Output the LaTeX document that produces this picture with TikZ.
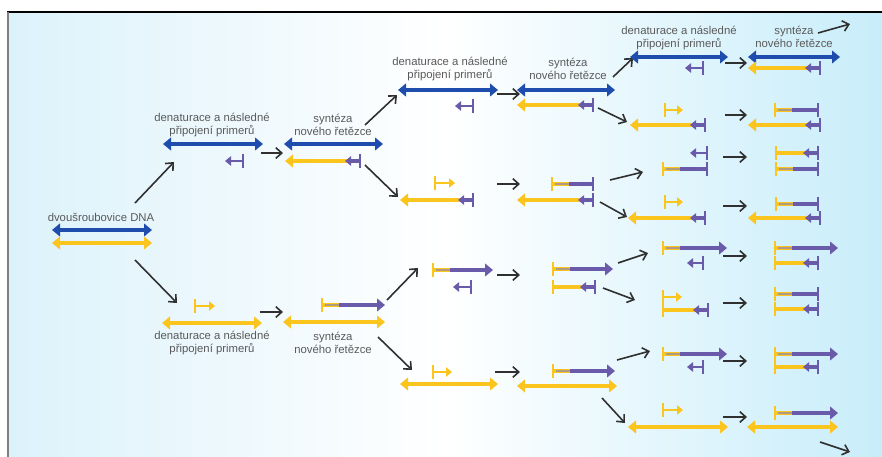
\documentclass[tikz,border=0pt]{standalone}
\usepackage{fontspec}
\setmainfont{Liberation Sans}
\usetikzlibrary{arrows.meta}
\definecolor{dnablue}{HTML}{1F4DAE}
\definecolor{dnayel}{HTML}{FBC51E}
\definecolor{dnapur}{HTML}{6A5AAA}
\definecolor{connc}{HTML}{303030}
\definecolor{lblc}{HTML}{5A5A5A}
\definecolor{mixc}{HTML}{B09A80}
\definecolor{bgL}{HTML}{DCF2FB}
\definecolor{bgR}{HTML}{C8EDFA}
\tikzset{
  dsline/.style={line width=3.6pt,{Triangle[length=6pt,width=9.5pt]}-{Triangle[length=6pt,width=9.5pt]}},
  thick strand/.style={line width=3.6pt},
  thin strand/.style={line width=2.2pt},
  bigtip/.style={-{Triangle[length=6pt,width=9.5pt]}},
  smalltip/.style={-{Triangle[length=4.5pt,width=7pt]}},
  cn/.style={draw=connc,line width=1.2pt,-{Straight Barb[length=4.5pt,width=8pt]}},
  lbl/.style={text=lblc,align=center,font=\fontsize{8.5}{9.8}\selectfont,inner sep=0pt}
}
% double strands
\newcommand\dsB[3]{\draw[dsline,color=dnablue] (#1,#3) -- (#2,#3);}
\newcommand\dsY[3]{\draw[dsline,color=dnayel] (#1,#3) -- (#2,#3);}
% purple primer  <-|  (tip x1, bar x2)
\newcommand\pPur[3]{%
  \draw[thin strand,color=dnapur,smalltip] (#2,#3) -- (#1,#3);
  \draw[thin strand,color=dnapur] (#2,{#3-7}) -- (#2,{#3+7});}
% yellow primer  |->  (bar x1, tip x2)
\newcommand\pYel[3]{%
  \draw[thin strand,color=dnayel,smalltip] (#1,#3) -- (#2,#3);
  \draw[thin strand,color=dnayel] (#1,{#3-7}) -- (#1,{#3+7});}
% yellow strand pointing left with purple primer and bar at right
\newcommand\sYL[3]{%
  \draw[thick strand,color=dnayel,bigtip] ({#2-10},#3) -- (#1,#3);
  \draw[line width=2.6pt,color=dnapur,smalltip] (#2,#3) -- ({#2-15},#3);
  \draw[thin strand,color=dnapur] (#2,{#3-7}) -- (#2,{#3+7});}
% new strand |yel-pur>
\newcommand\sNewR[3]{%
  \draw[thin strand,color=dnayel] (#1,{#3-7}) -- (#1,{#3+7});
  \draw[thick strand,color=dnayel] (#1,#3) -- ({#1+17},#3);
  \draw[line width=0.8pt,color=mixc] ({#1+3},#3) -- ({#1+17},#3);
  \draw[thick strand,color=dnapur,bigtip] ({#1+17},#3) -- (#2,#3);}
% new strand |yel-pur|
\newcommand\sNewB[3]{%
  \draw[thin strand,color=dnayel] (#1,{#3-7}) -- (#1,{#3+7});
  \draw[thick strand,color=dnayel] (#1,#3) -- ({#1+17},#3);
  \draw[line width=0.8pt,color=mixc] ({#1+3},#3) -- ({#1+17},#3);
  \draw[thick strand,color=dnapur] ({#1+17},#3) -- (#2,#3);
  \draw[thin strand,color=dnapur] (#2,{#3-7}) -- (#2,{#3+7});}
% |yel=pur<|
\newcommand\sYB[3]{%
  \draw[thin strand,color=dnayel] (#1,{#3-7}) -- (#1,{#3+7});
  \draw[thick strand,color=dnayel] (#1,#3) -- ({#2-10},#3);
  \draw[line width=2.6pt,color=dnapur,smalltip] (#2,#3) -- ({#2-15},#3);
  \draw[thin strand,color=dnapur] (#2,{#3-7}) -- (#2,{#3+7});}
\begin{document}
\begin{tikzpicture}[x=0.75pt,y=-0.75pt]
\useasboundingbox (0,0) rectangle (882,457);
\fill[white] (0,0) rectangle (882,457);
\shade[left color=bgL,right color=bgR,middle color=white] (8,12) rectangle (882,457);
\draw[line width=1.5pt,black] (7,12) -- (882,12);
\draw[line width=1.2pt,gray] (8,12) -- (8,457);

% stage 0
\node[lbl] (dna) at (101,217) {dvoušroubovice DNA};
\dsB{52}{152}{230}
\dsY{52}{152}{243}
\draw[cn] (135,203) -- (174,162);
\draw[cn] (135,260) -- (177,303);

% stage 1 top
\node[lbl] (t1) at (212,125) {denaturace a následné\\připojení primerů};
\dsB{163}{263}{144}
\pPur{225}{243}{161}
\draw[cn] (261,153) -- (283,153);
% stage 2 top
\node[lbl] (t2) at (333,125) {syntéza\\nového řetězce};
\dsB{284}{383}{144}
\sYL{285}{360}{161}
\draw[cn] (365,125) -- (397,95);
\draw[cn] (365,165) -- (398,197);

% stage 3 top-top
\node[lbl] (t3) at (450,69) {denaturace a následné\\připojení primerů};
\dsB{398}{498}{90}
\pPur{455}{473}{106}
\draw[cn] (497,94) -- (520,94);
% stage 4 top-top
\node[lbl] (t4) at (568,69) {syntéza\\nového řetězce};
\dsB{517}{615}{90}
\sYL{517}{593}{105}
\draw[cn] (613,77) -- (633,58);
\draw[cn] (598,108) -- (627,122);
% stage 5 row 1
\node[lbl] (t5) at (679,38) {denaturace a následné\\připojení primerů};
\dsB{630}{728}{57}
\pPur{685}{703}{68}
\draw[cn] (725,63) -- (747,63);
% stage 6 row 1
\node[lbl] (t6) at (794,37) {syntéza\\nového řetězce};
\draw[cn] (818,33) -- (850,24);
\dsB{748}{840}{57}
\sYL{748}{820}{68}

% stage 5 row 2
\pYel{665}{683}{110}
\sYL{630}{705}{125}
\draw[cn] (725,115) -- (747,115);
% stage 6 row 2
\sNewB{775}{818}{110}
\sYL{748}{820}{125}

% stage 3 top-bottom
\pYel{435}{455}{183}
\sYL{400}{473}{200}
\draw[cn] (497,184) -- (520,184);
% stage 4 top-bottom
\sNewB{552}{593}{184}
\sYL{517}{593}{200}
\draw[cn] (610,180) -- (643,172);
\draw[cn] (600,202) -- (627,217);

% stage 5 row 3
\pPur{690}{707}{153}
\sNewB{663}{707}{169}
\draw[cn] (723,157) -- (747,157);
% stage 6 row 3
\sYB{776}{818}{153}
\sNewB{776}{818}{169}

% stage 5 row 4
\pYel{665}{683}{202}
\sYL{628}{705}{218}
\draw[cn] (723,206) -- (747,206);
% stage 6 row 4
\sNewB{776}{818}{204}
\sYL{748}{820}{218}

% stage 1 bottom
\pYel{195}{215}{306}
\dsY{162}{262}{323}
\node[lbl] (b1) at (212,343) {denaturace a následné\\připojení primerů};
\draw[cn] (260,312) -- (283,312);
% stage 2 bottom
\sNewR{322}{385}{305}
\dsY{283}{385}{322}
\node[lbl] (b2) at (333,343) {syntéza\\nového řetězce};
\draw[cn] (387,300) -- (418,268);
\draw[cn] (378,337) -- (412,370);

% stage 3 bottom-top
\sNewR{433}{493}{270}
\pPur{453}{471}{287}
\draw[cn] (497,275) -- (520,275);
% stage 4 bottom-top
\sNewR{553}{613}{269}
\sYB{553}{595}{287}
\draw[cn] (618,263) -- (648,253);
\draw[cn] (603,288) -- (635,300);

% stage 5 row 5
\sNewR{663}{727}{248}
\pPur{687}{703}{263}
\draw[cn] (723,256) -- (747,256);
% stage 6 row 5
\sNewR{775}{838}{248}
\sYB{775}{818}{263}

% stage 5 row 6
\pYel{663}{682}{297}
\sYB{663}{708}{310}
\draw[cn] (723,303) -- (747,303);
% stage 6 row 6
\sNewB{775}{818}{294}
\sYB{775}{818}{309}

% stage 3 bottom-bottom
\pYel{433}{452}{372}
\dsY{400}{498}{384}
\draw[cn] (495,372) -- (520,372);
% stage 4 bottom-bottom
\sNewR{553}{615}{371}
\dsY{517}{617}{386}
\draw[cn] (617,360) -- (650,351);
\draw[cn] (602,398) -- (625,423);

% stage 5 row 7
\sNewR{663}{727}{354}
\pPur{687}{703}{367}
\draw[cn] (723,361) -- (747,361);
% stage 6 row 7
\sNewR{775}{838}{354}
\sYB{775}{818}{367}

% stage 5 row 8
\pYel{663}{683}{410}
\dsY{628}{728}{427}
\draw[cn] (723,417) -- (747,417);
% stage 6 row 8
\sNewR{775}{838}{413}
\dsY{747}{838}{427}
\draw[cn] (820,442) -- (850,452);
\end{tikzpicture}
\end{document}
